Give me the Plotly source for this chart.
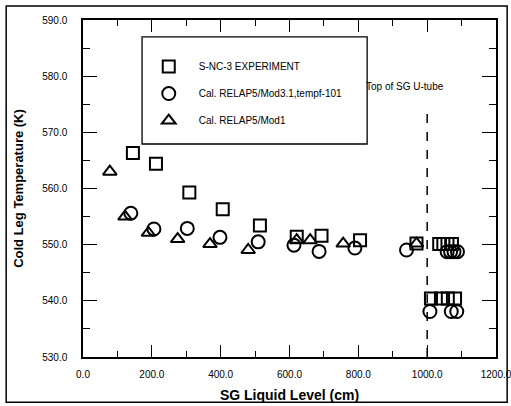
import plotly.graph_objects as go

# Data
exp_x = [145, 212, 309, 406, 514, 621, 693, 805, 969, 1035, 1047, 1059, 1072, 1011, 1040, 1060, 1081]
exp_y = [566.3, 564.4, 559.3, 556.3, 553.4, 551.4, 551.6, 550.8, 550.2, 550.1, 550.1, 550.1, 550.1, 540.4, 540.4, 540.4, 540.4]

mod31_x = [139, 206, 303, 398, 509, 613, 686, 790, 940, 1058, 1068, 1078, 1088, 1008, 1070, 1086]
mod31_y = [555.6, 552.8, 552.9, 551.3, 550.5, 549.9, 548.8, 549.4, 549.05, 548.75, 548.75, 548.75, 548.75, 538.1, 538.1, 538.1]

mod1_x = [78, 122, 190, 275, 369, 480, 621, 660, 756, 969]
mod1_y = [563.0, 555.0, 552.1, 551.0, 550.1, 549.05, 550.8, 550.8, 550.2, 550.2]

names = ["S-NC-3 EXPERIMENT", "Cal. RELAP5/Mod3.1,tempf-101", "Cal. RELAP5/Mod1"]
utube_level = 1000
utube_top = 574
x_ticks = [0, 200, 400, 600, 800, 1000, 1200]
y_ticks = [530, 540, 550, 560, 570, 580, 590]

FONT = "Liberation Sans Narrow, Arial Narrow, Liberation Sans, Arial"

fig = go.Figure()
series = [
    (exp_x, exp_y, names[0], "square-open", 12),
    (mod31_x, mod31_y, names[1], "circle-open", 13),
    (mod1_x, mod1_y, names[2], "triangle-up-open", 12),
]
for i, (xs, ys, nm, sym, sz) in enumerate(series):
    fig.add_trace(go.Scatter(
        x=xs, y=ys, mode="markers", name=nm, legendgroup=f"g{i}",
        marker=dict(symbol=sym, size=sz, color="black", line=dict(width=2, color="black")),
    ))

# Dashed U-tube line
fig.add_trace(go.Scatter(
    x=[utube_level, utube_level], y=[530, utube_top], mode="lines",
    line=dict(color="black", width=1.5, dash="dash"), showlegend=False, hoverinfo="skip",
))

fig.add_annotation(x=937, y=578.2, text="Top of SG U-tube", showarrow=False,
                   font=dict(family=FONT, size=10, color="black"))

# Legend box
fig.add_shape(type="rect", xref="paper", yref="paper", x0=0.143, x1=0.688, y0=0.632, y1=0.950,
              line=dict(color="black", width=1.3), fillcolor="rgba(0,0,0,0)")
# Outer frame
fig.add_shape(type="rect", xref="paper", yref="paper", x0=-0.186, x1=1.027, y0=-0.134, y1=1.0415,
              line=dict(color="black", width=1.5), fillcolor="rgba(0,0,0,0)")

axis_common = dict(
    showline=True, linecolor="black", linewidth=1.5, mirror="ticks",
    ticks="inside", tickcolor="black", tickwidth=1.2, showgrid=False, zeroline=False,
    tickformat=".1f", tickfont=dict(family=FONT, size=10, color="black"),
    ticklabeloverflow="allow",
)

fig.update_xaxes(
    range=[0, 1200], tickvals=x_ticks, ticklen=12,
    minor=dict(ticks="inside", dtick=100, ticklen=6, tickcolor="black", tickwidth=1.2),
    title=dict(text="<b>SG Liquid Level (cm)</b>", font=dict(family="Liberation Sans, Arial", size=14, color="black"), standoff=11),
    ticklabelstandoff=7,
    **axis_common,
)
fig.update_yaxes(
    range=[530, 590], tickvals=y_ticks, ticklen=14,
    minor=dict(ticks="inside", dtick=5, ticklen=7, tickcolor="black", tickwidth=1.2),
    title=dict(text="<b>Cold Leg Temperature (K)</b>", font=dict(family="Liberation Sans, Arial", size=13, color="black"), standoff=16),
    ticklabelstandoff=12,
    **axis_common,
)

fig.update_layout(
    width=511, height=406,
    margin=dict(l=83, r=15, t=20, b=49, autoexpand=False),
    plot_bgcolor="white", paper_bgcolor="white",
    legend=dict(x=0.135, y=0.905, xanchor="left", yanchor="top", bgcolor="rgba(0,0,0,0)",
                borderwidth=0, font=dict(family=FONT, size=10, color="black"),
                traceorder="grouped", tracegroupgap=8, itemwidth=50),
    showlegend=True,
)

fig.write_html("out.html")
